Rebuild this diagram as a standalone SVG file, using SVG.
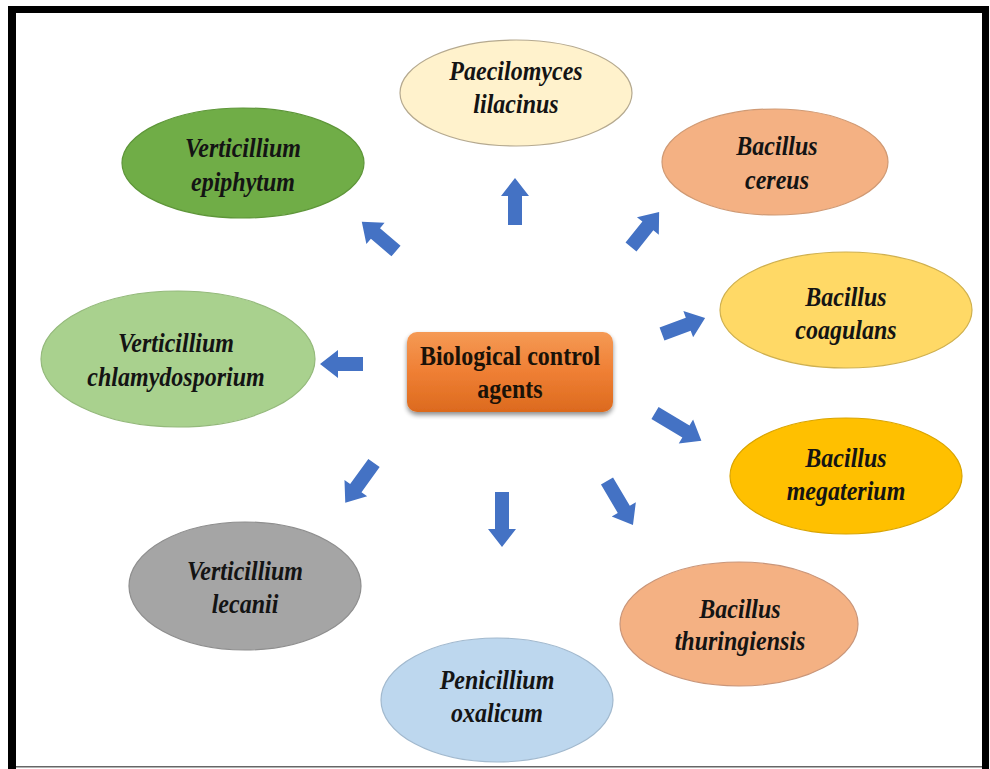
<svg xmlns="http://www.w3.org/2000/svg" width="990" height="769" viewBox="0 0 990 769">
<style>
.lbl{font-family:"Liberation Serif","Times New Roman",serif;font-size:24px;font-weight:bold;font-style:italic;fill:#141414;text-anchor:middle}
.ctr{font-family:"Liberation Serif","Times New Roman",serif;font-size:24px;font-weight:bold;fill:#1a1208;text-anchor:middle}
.arr{fill:#4472C4}
.el{stroke-width:1.2}
</style>
<defs>
<linearGradient id="og" x1="0" y1="0" x2="0" y2="1">
<stop offset="0" stop-color="#F59A55"/>
<stop offset="0.5" stop-color="#EF7F34"/>
<stop offset="1" stop-color="#DC6A1E"/>
</linearGradient>
<filter id="sh" x="-10%" y="-10%" width="120%" height="130%">
<feGaussianBlur in="SourceAlpha" stdDeviation="2.5"/>
<feOffset dx="0" dy="3"/>
<feComponentTransfer><feFuncA type="linear" slope="0.45"/></feComponentTransfer>
<feMerge><feMergeNode/><feMergeNode in="SourceGraphic"/></feMerge>
</filter>
</defs>
<rect x="0" y="0" width="990" height="769" fill="#ffffff"/>
<!-- frame -->
<g id="frame" fill="#000">
<rect x="8" y="6" width="981" height="7"/>
<rect x="8" y="6" width="8" height="763"/>
<rect x="982" y="6" width="7" height="763"/>
<rect x="16" y="766" width="966" height="1.5" fill="#666"/>
</g>
<g id="connectors">
<path class="arr" d="M0,-7H29V-14L47,0L29,14V7H0Z" transform="translate(515,225) rotate(-90)"/>
<path class="arr" d="M0,-7H27V-14L45,0L27,14V7H0Z" transform="translate(396,251) rotate(-139.5)"/>
<path class="arr" d="M0,-7H27V-14L45,0L27,14V7H0Z" transform="translate(631,247) rotate(-51.3)"/>
<path class="arr" d="M0,-7H28V-14L46,0L28,14V7H0Z" transform="translate(662,334) rotate(-20.4)"/>
<path class="arr" d="M0,-7H25V-14L43,0L25,14V7H0Z" transform="translate(363,364) rotate(180)"/>
<path class="arr" d="M0,-7H36V-14L54,0L36,14V7H0Z" transform="translate(655,413) rotate(30.8)"/>
<path class="arr" d="M0,-7H31V-14L49,0L31,14V7H0Z" transform="translate(374,463) rotate(125.9)"/>
<path class="arr" d="M0,-7H37V-14L55,0L37,14V7H0Z" transform="translate(502,492) rotate(90)"/>
<path class="arr" d="M0,-7H33V-14L51,0L33,14V7H0Z" transform="translate(607,481) rotate(59.4)"/>
</g>
<g id="center">
<rect x="407" y="332" width="206" height="80" rx="10" fill="url(#og)" filter="url(#sh)"/>
<text class="ctr" transform="translate(510,365) scale(1,1.15)">Biological control</text>
<text class="ctr" transform="translate(510,398) scale(1,1.15)">agents</text>
</g>
<g id="paecilomyces">
<ellipse class="el" cx="516" cy="93" rx="116" ry="53" fill="#FFF2CC" stroke="#B5A98F"/>
<text class="lbl" transform="translate(516,80) scale(1,1.15)">Paecilomyces</text>
<text class="lbl" transform="translate(516,113) scale(1,1.15)">lilacinus</text>
</g>
<g id="v-epiphytum">
<ellipse class="el" cx="243" cy="163" rx="121" ry="55" fill="#70AD47" stroke="#5E9639"/>
<text class="lbl" transform="translate(243,157) scale(1,1.15)">Verticillium</text>
<text class="lbl" transform="translate(243,191) scale(1,1.15)">epiphytum</text>
</g>
<g id="b-cereus">
<ellipse class="el" cx="775" cy="162" rx="113" ry="53" fill="#F4B183" stroke="#D09A74"/>
<text class="lbl" transform="translate(777,155) scale(1,1.15)">Bacillus</text>
<text class="lbl" transform="translate(777,189) scale(1,1.15)">cereus</text>
</g>
<g id="b-coagulans">
<ellipse class="el" cx="846" cy="310" rx="126" ry="58" fill="#FFD966" stroke="#CFB04F"/>
<text class="lbl" transform="translate(846,306) scale(1,1.15)">Bacillus</text>
<text class="lbl" transform="translate(846,339) scale(1,1.15)">coagulans</text>
</g>
<g id="v-chlamydosporium">
<ellipse class="el" cx="178" cy="359" rx="137" ry="68" fill="#A9D18E" stroke="#94B97B"/>
<text class="lbl" transform="translate(176,352) scale(1,1.15)">Verticillium</text>
<text class="lbl" transform="translate(176,386) scale(1,1.15)">chlamydosporium</text>
</g>
<g id="b-megaterium">
<ellipse class="el" cx="846" cy="476" rx="116" ry="58" fill="#FFC000" stroke="#D9A400"/>
<text class="lbl" transform="translate(846,467) scale(1,1.15)">Bacillus</text>
<text class="lbl" transform="translate(846,500) scale(1,1.15)">megaterium</text>
</g>
<g id="v-lecanii">
<ellipse class="el" cx="245" cy="586" rx="116" ry="64" fill="#A5A5A5" stroke="#8E8E8E"/>
<text class="lbl" transform="translate(245,580) scale(1,1.15)">Verticillium</text>
<text class="lbl" transform="translate(245,613) scale(1,1.15)">lecanii</text>
</g>
<g id="b-thuringiensis">
<ellipse class="el" cx="739" cy="624" rx="119" ry="62" fill="#F4B183" stroke="#C9967A"/>
<text class="lbl" transform="translate(740,618) scale(1,1.15)">Bacillus</text>
<text class="lbl" transform="translate(740,650) scale(1,1.15)">thuringiensis</text>
</g>
<g id="penicillium">
<ellipse class="el" cx="497" cy="700" rx="116" ry="62" fill="#BDD7EE" stroke="#A2B9CE"/>
<text class="lbl" transform="translate(497,689) scale(1,1.15)">Penicillium</text>
<text class="lbl" transform="translate(497,722) scale(1,1.15)">oxalicum</text>
</g>
</svg>
